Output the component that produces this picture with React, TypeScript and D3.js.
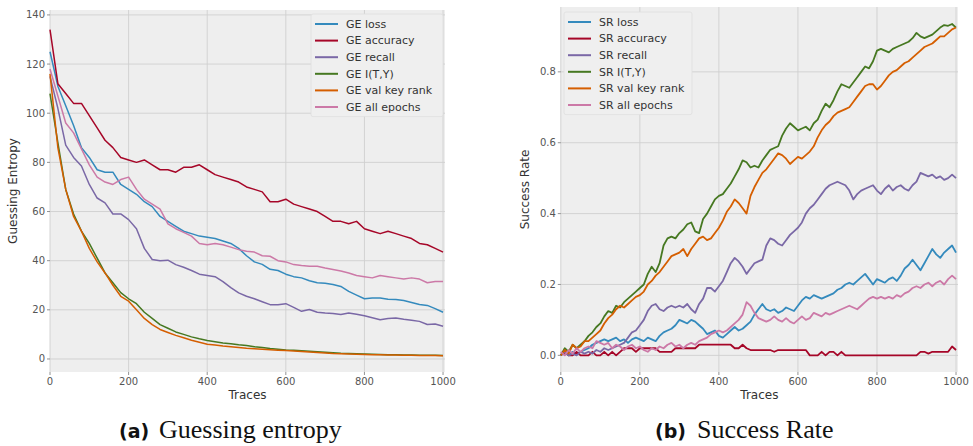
import React from "react";
import * as d3 from "d3";

// Trace counts on the x axis
const geTraces = d3.range(0, 1001, 20);
const srTraces = d3.range(0, 1001, 10);

// Guessing entropy per early-stopping metric
const geLoss = [125, 111, 103, 95, 86, 82, 77, 76, 76, 71, 69, 67, 64, 62, 58, 56, 54, 52, 51, 50, 49.5, 49, 48, 47, 45, 42, 39.5, 38.5, 36.5, 36, 34.5, 33.5, 33, 31.8, 31, 30.8, 30.3, 29.5, 27.5, 26, 24.5, 24.8, 24.8, 24.3, 24.2, 23.8, 23, 22.2, 21.8, 20.5, 19];
const geAccuracy = [134, 112, 108, 104, 104, 99, 94, 89, 86, 82, 81, 80, 81, 79, 77, 77, 76, 78, 78, 79, 77, 75, 74, 73, 72, 70, 69, 68, 64, 64, 65, 63, 62, 61, 60, 58, 56, 56, 55, 56, 53, 52, 51, 52, 51, 50, 49, 47, 46.5, 45, 43.5];
const geRecall = [115, 102, 87, 82, 78.5, 71, 65.5, 63.5, 59, 59, 56.7, 53, 45, 40.5, 40, 40.2, 38.4, 37.3, 36, 34.5, 34, 33.5, 31.5, 29, 26.9, 25.5, 24.5, 23.3, 22.1, 22.1, 22.5, 21, 19.4, 20.1, 19, 18.7, 18.5, 18.1, 18.7, 18.2, 17.6, 16.8, 16, 16.5, 16.7, 16.2, 15.8, 15.3, 14, 14.2, 13.3];
const geIty = [108, 88, 69, 59, 52, 47, 41, 35, 31, 27, 24.5, 22.5, 19, 16.5, 14, 12.5, 11, 10, 9, 8.2, 7.5, 7, 6.5, 6.2, 5.8, 5.5, 5, 4.7, 4.3, 4, 3.7, 3.5, 3.3, 3.1, 2.9, 2.7, 2.5, 2.3, 2.2, 2.1, 2, 1.9, 1.8, 1.75, 1.7, 1.65, 1.6, 1.55, 1.5, 1.5, 1.45];
const geValKeyRank = [116, 86, 69, 58, 52, 45, 39.5, 35, 30, 25.5, 23.5, 20, 16.5, 14, 12, 10.8, 9.6, 8.6, 7.6, 6.8, 6, 5.7, 5.3, 5, 4.7, 4.4, 4.2, 4, 3.8, 3.6, 3.4, 3.2, 3, 2.8, 2.6, 2.4, 2.2, 2.1, 2, 1.9, 1.8, 1.75, 1.7, 1.65, 1.6, 1.55, 1.5, 1.45, 1.4, 1.4, 1.35];
const geAllEpochs = [118, 107, 96, 92, 85.5, 79, 74, 72, 71, 73, 74, 69, 65, 63, 61, 55, 53, 51.5, 50, 47, 46.5, 47, 46.5, 45.5, 44.5, 43.8, 43.5, 42, 41.8, 40, 39.5, 38.4, 38, 37.7, 37.7, 37, 36.4, 35.8, 35, 34, 33.5, 33, 34, 33.5, 33, 32.5, 33, 32.5, 31, 31.5, 31.5];

// Success rate per early-stopping metric
const srLoss = [0, 0.01, 0, 0.01, 0.005, 0.01, 0.015, 0.02, 0.03, 0.035, 0.04, 0.045, 0.04, 0.045, 0.05, 0.04, 0.045, 0.035, 0.045, 0.05, 0.045, 0.04, 0.05, 0.045, 0.04, 0.055, 0.065, 0.07, 0.075, 0.085, 0.1, 0.095, 0.09, 0.1, 0.095, 0.085, 0.075, 0.06, 0.065, 0.07, 0.055, 0.05, 0.06, 0.07, 0.08, 0.07, 0.075, 0.085, 0.095, 0.115, 0.13, 0.145, 0.13, 0.125, 0.13, 0.12, 0.125, 0.135, 0.13, 0.125, 0.14, 0.155, 0.165, 0.16, 0.17, 0.165, 0.16, 0.165, 0.17, 0.175, 0.185, 0.19, 0.2, 0.205, 0.2, 0.21, 0.22, 0.23, 0.215, 0.2, 0.215, 0.21, 0.205, 0.215, 0.22, 0.21, 0.225, 0.245, 0.255, 0.27, 0.255, 0.24, 0.26, 0.28, 0.3, 0.285, 0.275, 0.29, 0.3, 0.31, 0.29];
const srAccuracy = [0, 0.01, 0, 0, 0.01, 0, 0, 0, 0.01, 0, 0, 0.01, 0, 0.01, 0, 0.01, 0.02, 0.02, 0.02, 0.01, 0.02, 0.02, 0.02, 0.02, 0.02, 0.01, 0.01, 0.01, 0.01, 0.02, 0.02, 0.02, 0.02, 0.02, 0.02, 0.03, 0.03, 0.03, 0.03, 0.03, 0.03, 0.03, 0.03, 0.03, 0.02, 0.02, 0.03, 0.02, 0.015, 0.015, 0.015, 0.015, 0.015, 0.015, 0.01, 0.015, 0.015, 0.015, 0.015, 0.015, 0.015, 0.015, 0.015, 0, 0, 0, 0.01, 0, 0.01, 0.01, 0, 0.01, 0, 0, 0, 0, 0, 0, 0, 0, 0, 0, 0, 0, 0, 0, 0, 0, 0, 0, 0, 0.01, 0.01, 0.005, 0.01, 0.01, 0.01, 0.01, 0.01, 0.025, 0.015];
const srRecall = [0, 0.01, 0, 0.005, 0, 0.01, 0.005, 0.01, 0.005, 0.015, 0.01, 0.02, 0.015, 0.02, 0.025, 0.03, 0.035, 0.05, 0.065, 0.07, 0.085, 0.1, 0.125, 0.14, 0.145, 0.13, 0.125, 0.135, 0.14, 0.135, 0.14, 0.135, 0.145, 0.13, 0.12, 0.145, 0.16, 0.19, 0.19, 0.18, 0.195, 0.21, 0.235, 0.26, 0.275, 0.265, 0.25, 0.23, 0.245, 0.26, 0.265, 0.27, 0.31, 0.33, 0.325, 0.315, 0.31, 0.325, 0.34, 0.35, 0.36, 0.375, 0.4, 0.415, 0.425, 0.44, 0.455, 0.47, 0.48, 0.485, 0.49, 0.485, 0.48, 0.465, 0.44, 0.455, 0.465, 0.47, 0.475, 0.48, 0.465, 0.455, 0.47, 0.48, 0.465, 0.475, 0.48, 0.47, 0.465, 0.48, 0.49, 0.515, 0.51, 0.505, 0.51, 0.5, 0.505, 0.495, 0.5, 0.51, 0.5];
const srIty = [0, 0.02, 0.01, 0.03, 0.02, 0.03, 0.04, 0.055, 0.065, 0.08, 0.09, 0.11, 0.125, 0.12, 0.14, 0.135, 0.15, 0.16, 0.17, 0.18, 0.19, 0.2, 0.23, 0.25, 0.235, 0.26, 0.31, 0.33, 0.335, 0.33, 0.345, 0.355, 0.37, 0.375, 0.35, 0.345, 0.385, 0.4, 0.42, 0.44, 0.45, 0.455, 0.47, 0.485, 0.505, 0.525, 0.55, 0.545, 0.53, 0.535, 0.53, 0.55, 0.565, 0.58, 0.585, 0.59, 0.62, 0.64, 0.655, 0.645, 0.635, 0.64, 0.645, 0.635, 0.655, 0.665, 0.69, 0.71, 0.7, 0.72, 0.745, 0.765, 0.76, 0.755, 0.77, 0.785, 0.8, 0.815, 0.81, 0.83, 0.86, 0.865, 0.86, 0.855, 0.865, 0.87, 0.875, 0.88, 0.885, 0.895, 0.91, 0.9, 0.895, 0.9, 0.905, 0.915, 0.925, 0.932, 0.93, 0.935, 0.925];
const srValKeyRank = [0, 0.015, 0.005, 0.03, 0.02, 0.025, 0.04, 0.04, 0.05, 0.06, 0.07, 0.09, 0.105, 0.115, 0.13, 0.14, 0.135, 0.145, 0.155, 0.165, 0.17, 0.18, 0.2, 0.21, 0.225, 0.235, 0.25, 0.265, 0.28, 0.285, 0.29, 0.3, 0.28, 0.3, 0.315, 0.33, 0.335, 0.325, 0.33, 0.345, 0.36, 0.38, 0.405, 0.42, 0.44, 0.43, 0.415, 0.4, 0.45, 0.475, 0.495, 0.515, 0.525, 0.54, 0.555, 0.57, 0.565, 0.555, 0.54, 0.55, 0.56, 0.555, 0.565, 0.575, 0.59, 0.615, 0.635, 0.65, 0.66, 0.675, 0.685, 0.69, 0.695, 0.7, 0.715, 0.73, 0.745, 0.76, 0.765, 0.765, 0.75, 0.76, 0.775, 0.79, 0.8, 0.805, 0.815, 0.825, 0.83, 0.84, 0.85, 0.86, 0.87, 0.875, 0.88, 0.89, 0.9, 0.9, 0.91, 0.92, 0.925];
const srAllEpochs = [0.01, 0, 0.015, 0.005, 0.02, 0.01, 0.02, 0.025, 0.02, 0.04, 0.035, 0.03, 0.035, 0.02, 0.03, 0.025, 0.015, 0.025, 0.03, 0.02, 0.025, 0.015, 0.01, 0.02, 0.015, 0.025, 0.02, 0.03, 0.035, 0.025, 0.03, 0.02, 0.03, 0.035, 0.03, 0.04, 0.045, 0.05, 0.06, 0.065, 0.07, 0.065, 0.07, 0.08, 0.09, 0.1, 0.115, 0.15, 0.14, 0.12, 0.105, 0.1, 0.095, 0.1, 0.11, 0.1, 0.095, 0.105, 0.095, 0.09, 0.1, 0.11, 0.1, 0.105, 0.12, 0.115, 0.11, 0.12, 0.115, 0.12, 0.125, 0.13, 0.135, 0.14, 0.135, 0.13, 0.14, 0.15, 0.16, 0.165, 0.16, 0.165, 0.16, 0.165, 0.16, 0.17, 0.165, 0.175, 0.18, 0.19, 0.195, 0.19, 0.2, 0.205, 0.195, 0.205, 0.21, 0.2, 0.215, 0.225, 0.215];

const geLabels = ["GE loss", "GE accuracy", "GE recall", "GE I(T,Y)", "GE val key rank", "GE all epochs"];
const srLabels = ["SR loss", "SR accuracy", "SR recall", "SR I(T,Y)", "SR val key rank", "SR all epochs"];
const seriesColors = ["#348ABD", "#A60628", "#7A68A6", "#467821", "#D55E00", "#CC79A7"];

const xTicks = [0, 200, 400, 600, 800, 1000];
const geYTicks = [0, 20, 40, 60, 80, 100, 120, 140];
const srYTicks = [0, 0.2, 0.4, 0.6, 0.8];

const TICK_FONT = "'DejaVu Sans', sans-serif";

type PanelProps = {
  traces: number[];
  series: number[][];
  labels: string[];
  yTicks: number[];
  yFormat: (v: number) => string;
  yDomain: [number, number];
  left: number;
  right: number;
  top: number;
  bottom: number;
  yLabel: string;
  yLabelX: number;
  legendX: number;
  legendY: number;
  legendW: number;
  lineWidth: number;
};

function Panel(p: PanelProps) {
  const x = d3.scaleLinear().domain([0, 1005]).range([p.left, p.right]);
  const y = d3.scaleLinear().domain(p.yDomain).range([p.bottom, p.top]);
  const line = d3
    .line<number>()
    .x((_, i) => x(p.traces[i]))
    .y((d) => y(d));
  const rowH = 16.6;
  const legendH = rowH * p.labels.length + 3;
  const midY = (p.top + p.bottom) / 2;
  return (
    <g>
      <rect x={p.left} y={p.top} width={p.right - p.left} height={p.bottom - p.top} fill="#eeeeee" />
      {xTicks.map((t) => (
        <line key={"gx" + t} x1={x(t)} x2={x(t)} y1={p.top} y2={p.bottom} stroke="#cfcfcf" strokeWidth={0.9} />
      ))}
      {p.yTicks.map((t) => (
        <line key={"gy" + t} x1={p.left} x2={p.right} y1={y(t)} y2={y(t)} stroke="#cfcfcf" strokeWidth={0.9} />
      ))}
      {p.series.map((s, i) => (
        <path key={"s" + i} d={line(s) || ""} fill="none" stroke={seriesColors[i]} strokeWidth={p.lineWidth} strokeLinejoin="round" />
      ))}
      {/* ticks and tick labels */}
      {xTicks.map((t) => (
        <g key={"tx" + t}>
          <line x1={x(t)} x2={x(t)} y1={p.bottom} y2={p.bottom + 3} stroke="#777" strokeWidth={0.8} />
          <text x={x(t)} y={p.bottom + 13} textAnchor="middle" fontSize={10} fontFamily={TICK_FONT} fill="#555">
            {t}
          </text>
        </g>
      ))}
      {p.yTicks.map((t) => (
        <g key={"ty" + t}>
          <line x1={p.left - 3} x2={p.left} y1={y(t)} y2={y(t)} stroke="#777" strokeWidth={0.8} />
          <text x={p.left - 5} y={y(t) + 3.5} textAnchor="end" fontSize={10} fontFamily={TICK_FONT} fill="#555">
            {p.yFormat(t)}
          </text>
        </g>
      ))}
      <text x={(p.left + p.right) / 2} y={p.bottom + 27} textAnchor="middle" fontSize={12} fontFamily={TICK_FONT} fill="#333">
        Traces
      </text>
      <text
        transform={`translate(${p.yLabelX},${midY}) rotate(-90)`}
        textAnchor="middle"
        fontSize={12}
        fontFamily={TICK_FONT}
        fill="#333"
      >
        {p.yLabel}
      </text>
      {/* legend */}
      <rect x={p.legendX} y={p.legendY} width={p.legendW} height={legendH} fill="#efefef" stroke="#dedede" strokeWidth={0.8} rx={2} />
      {p.labels.map((lab, i) => {
        const ry = p.legendY + 10 + i * rowH;
        return (
          <g key={"lg" + i}>
            <line x1={p.legendX + 4} x2={p.legendX + 27} y1={ry} y2={ry} stroke={seriesColors[i]} strokeWidth={2} />
            <text x={p.legendX + 35} y={ry + 3.8} fontSize={11} fontFamily={TICK_FONT} fill="#333">
              {lab}
            </text>
          </g>
        );
      })}
    </g>
  );
}

export default function App() {
  return (
    <svg
      width={973}
      height={446}
      viewBox="0 0 973 446"
      style={{ position: "absolute", left: 0, top: 0, background: "#ffffff" }}
    >
      <Panel
        traces={geTraces}
        series={[geLoss, geAccuracy, geRecall, geIty, geValKeyRank, geAllEpochs]}
        labels={geLabels}
        yTicks={geYTicks}
        yFormat={(v) => String(v)}
        yDomain={[-5.3, 142]}
        left={50}
        right={445}
        top={10}
        bottom={372}
        yLabel="Guessing Entropy"
        yLabelX={17}
        legendX={311}
        legendY={14}
        legendW={132}
        lineWidth={1.5}
      />
      <Panel
        traces={srTraces}
        series={[srLoss, srAccuracy, srRecall, srIty, srValKeyRank, srAllEpochs]}
        labels={srLabels}
        yTicks={srYTicks}
        yFormat={(v) => v.toFixed(1)}
        yDomain={[-0.047, 0.983]}
        left={560.8}
        right={958}
        top={7}
        bottom={372}
        yLabel="Success Rate"
        yLabelX={529}
        legendX={564}
        legendY={12}
        legendW={128}
        lineWidth={1.8}
      />
      <text x={119} y={438} fill="#111" fontFamily="'DejaVu Sans', sans-serif" fontWeight="bold" fontSize={19}>
        (a)
      </text>
      <text x={159} y={438} fill="#111" fontFamily="'Liberation Serif', serif" fontSize={26}>
        Guessing entropy
      </text>
      <text x={655} y={438} fill="#111" fontFamily="'DejaVu Sans', sans-serif" fontWeight="bold" fontSize={19}>
        (b)
      </text>
      <text x={697} y={438} fill="#111" fontFamily="'Liberation Serif', serif" fontSize={26}>
        Success Rate
      </text>
    </svg>
  );
}
